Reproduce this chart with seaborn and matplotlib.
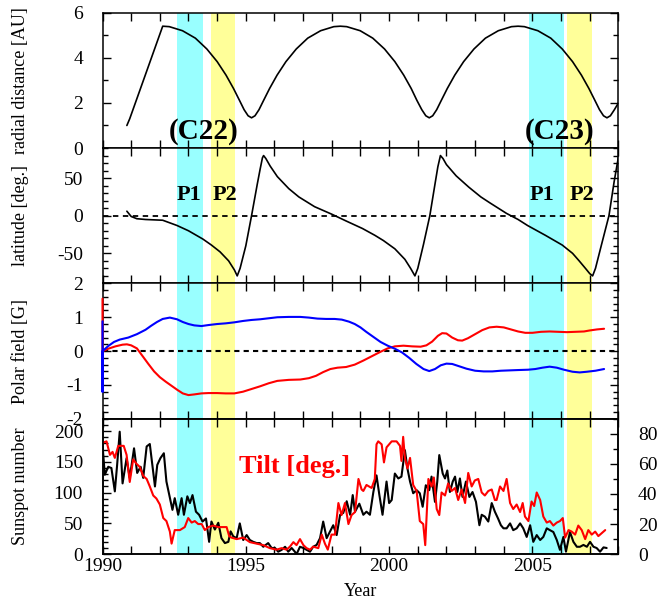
import numpy as np
import matplotlib
matplotlib.use("Agg")
import matplotlib.pyplot as plt
import seaborn as sns
from matplotlib.ticker import MultipleLocator

# =============================================================================
# DATA
# =============================================================================
# shaded periods (start, end) in years
p1_c22 = (1992.60, 1993.49)
p2_c22 = (1993.78, 1994.62)
p1_c23 = (2004.89, 2006.10)
p2_c23 = (2006.22, 2007.07)

# radial distance [AU]
orbit_t = [1990.85, 1990.95, 1992.10, 1992.33, 1992.79, 1993.24, 1993.64, 1994.00, 1994.31,
           1994.57, 1994.78, 1994.94, 1995.08, 1995.20, 1995.32, 1995.46, 1995.62, 1995.83,
           1996.09, 1996.40, 1996.76, 1997.16, 1997.61, 1998.07, 1998.30, 1998.52, 1998.99,
           1999.43, 1999.84, 2000.20, 2000.51, 2000.77, 2000.97, 2001.14, 2001.28, 2001.40,
           2001.52, 2001.66, 2001.82, 2002.03, 2002.29, 2002.60, 2002.96, 2003.36, 2003.81,
           2004.27, 2004.50, 2004.72, 2005.19, 2005.64, 2006.04, 2006.40, 2006.71, 2006.97,
           2007.18, 2007.34, 2007.48, 2007.60, 2007.72, 2007.86, 2008.00]
orbit_r = [1.00, 1.30, 5.40, 5.38, 5.20, 4.87, 4.39, 3.83, 3.23,
           2.64, 2.11, 1.70, 1.43, 1.34, 1.43, 1.70, 2.11, 2.64,
           3.23, 3.83, 4.39, 4.87, 5.20, 5.38, 5.40, 5.38, 5.20,
           4.87, 4.39, 3.83, 3.23, 2.64, 2.11, 1.70, 1.43, 1.34,
           1.43, 1.70, 2.11, 2.64, 3.23, 3.83, 4.39, 4.87, 5.20,
           5.38, 5.40, 5.38, 5.20, 4.87, 4.39, 3.83, 3.23, 2.64,
           2.11, 1.70, 1.43, 1.34, 1.43, 1.70, 2.00]

# heliographic latitude [deg]
lat_t = [1990.85, 1991.0, 1991.2, 1991.5, 1992.1, 1992.6, 1993.0, 1993.5, 1993.8, 1994.1,
         1994.4, 1994.6, 1994.7, 1994.8, 1995.0, 1995.2, 1995.4, 1995.5, 1995.58, 1995.62,
         1995.7, 1995.85, 1996.1, 1996.5, 1996.85, 1997.4, 1998.0, 1998.5, 1999.07, 1999.5,
         1999.8, 2000.2, 2000.55, 2000.75, 2000.9, 2001.0, 2001.2, 2001.42, 2001.6, 2001.7,
         2001.79, 2001.88, 2002.0, 2002.34, 2002.78, 2003.2, 2003.52, 2004.1, 2004.5, 2004.83,
         2005.45, 2006.04, 2006.4, 2006.63, 2006.85, 2007.0, 2007.1, 2007.2, 2007.4, 2007.67,
         2007.85, 2008.0]
lat_v = [6, -1, -4, -5, -6, -13, -20, -31, -39, -48,
         -60, -72, -80, -70, -40, 0, 42, 62, 77, 80,
         76, 66, 52, 36, 25, 12, 2, -7, -17, -26,
         -33, -44, -58, -70, -80, -70, -38, 0, 42, 65,
         80, 76, 68, 53, 38, 25, 17, 3, -5, -13,
         -26, -39, -50, -60, -70, -77, -80, -70, -40, 0,
         45, 78]

# polar field [G]
north_t = [1990.0, 1990.0, 1990.0, 1990.2, 1990.4, 1990.6, 1990.9, 1991.2, 1991.5, 1991.7,
           1991.9, 1992.1, 1992.35, 1992.6, 1992.8, 1993.0, 1993.2, 1993.45, 1993.7, 1994.0,
           1994.3, 1994.6, 1994.9, 1995.2, 1995.5, 1995.8, 1996.1, 1996.5, 1996.9, 1997.2,
           1997.5, 1997.8, 1998.1, 1998.35, 1998.6, 1998.8, 1999.0, 1999.2, 1999.45, 1999.7,
           1999.95, 2000.2, 2000.45, 2000.7, 2000.95, 2001.2, 2001.4, 2001.6, 2001.8, 2002.0,
           2002.2, 2002.45, 2002.7, 2003.0, 2003.3, 2003.6, 2003.9, 2004.2, 2004.5, 2004.85,
           2005.1, 2005.35, 2005.6, 2005.85, 2006.1, 2006.4, 2006.65, 2006.9, 2007.2, 2007.5]
north_b = [0.88, -1.2, 0.0, 0.15, 0.27, 0.34, 0.40, 0.50, 0.63, 0.75,
           0.86, 0.95, 0.99, 0.94, 0.86, 0.80, 0.76, 0.74, 0.77, 0.80,
           0.82, 0.85, 0.89, 0.92, 0.94, 0.97, 1.00, 1.01, 1.01, 0.99,
           0.96, 0.95, 0.95, 0.93, 0.87, 0.80, 0.70, 0.57, 0.42, 0.27,
           0.16, 0.07, -0.04, -0.20, -0.38, -0.53, -0.59, -0.53, -0.42, -0.37,
           -0.38, -0.45, -0.52, -0.58, -0.60, -0.60, -0.58, -0.57, -0.56, -0.55,
           -0.53, -0.49, -0.46, -0.49, -0.55, -0.61, -0.63, -0.61, -0.58, -0.53]
south_t = [1990.0, 1990.0, 1990.2, 1990.45, 1990.7, 1990.85, 1991.0, 1991.2, 1991.4, 1991.6,
           1991.8, 1992.0, 1992.2, 1992.4, 1992.6, 1992.8, 1993.0, 1993.2, 1993.45, 1993.7,
           1994.0, 1994.3, 1994.6, 1994.9, 1995.2, 1995.5, 1995.8, 1996.1, 1996.5, 1996.9,
           1997.2, 1997.45, 1997.7, 1997.95, 1998.2, 1998.5, 1998.8, 1999.1, 1999.4, 1999.7,
           1999.95, 2000.2, 2000.5, 2000.8, 2001.1, 2001.3, 2001.5, 2001.7, 2001.85, 2002.0,
           2002.2, 2002.4, 2002.55, 2002.75, 2003.0, 2003.25, 2003.5, 2003.75, 2004.0, 2004.25,
           2004.5, 2004.75, 2005.0, 2005.3, 2005.6, 2005.9, 2006.2, 2006.5, 2006.8, 2007.0,
           2007.25, 2007.5]
south_b = [1.55, 0.0, 0.07, 0.14, 0.19, 0.20, 0.17, 0.08, -0.15, -0.38,
           -0.60, -0.77, -0.90, -1.02, -1.14, -1.25, -1.30, -1.28, -1.25, -1.24,
           -1.24, -1.25, -1.25, -1.20, -1.12, -1.04, -0.95, -0.88, -0.85, -0.84,
           -0.80, -0.73, -0.62, -0.53, -0.49, -0.47, -0.40, -0.28, -0.15, -0.02,
           0.08, 0.14, 0.16, 0.14, 0.13, 0.17, 0.28, 0.45, 0.53, 0.52,
           0.40, 0.32, 0.31, 0.38, 0.50, 0.62, 0.70, 0.72, 0.70, 0.64,
           0.58, 0.54, 0.54, 0.57, 0.58, 0.57, 0.56, 0.57, 0.58, 0.61,
           0.64, 0.66]

# sunspot number
ssn_t = [1990.00, 1990.08, 1990.20, 1990.31, 1990.43, 1990.51, 1990.60, 1990.70, 1990.84, 1990.95,
         1991.10, 1991.21, 1991.33, 1991.42, 1991.54, 1991.65, 1991.74, 1991.83, 1991.91, 1992.02,
         1992.14, 1992.23, 1992.33, 1992.44, 1992.52, 1992.64, 1992.76, 1992.84, 1992.96, 1993.05,
         1993.14, 1993.26, 1993.37, 1993.49, 1993.61, 1993.72, 1993.80, 1993.92, 1994.04, 1994.15,
         1994.27, 1994.39, 1994.47, 1994.56, 1994.68, 1994.79, 1994.91, 1995.03, 1995.14, 1995.26,
         1995.38, 1995.49, 1995.61, 1995.78, 1995.90, 1996.02, 1996.13, 1996.25, 1996.37, 1996.48,
         1996.60, 1996.71, 1996.77, 1996.89, 1997.01, 1997.12, 1997.24, 1997.35, 1997.47, 1997.59,
         1997.70, 1997.82, 1997.94, 1998.05, 1998.17, 1998.29, 1998.40, 1998.52, 1998.64, 1998.73,
         1998.81, 1998.96, 1999.10, 1999.21, 1999.33, 1999.45, 1999.56, 1999.66, 1999.77, 1999.91,
         2000.00, 2000.09, 2000.20, 2000.32, 2000.43, 2000.55, 2000.64, 2000.73, 2000.84, 2000.96,
         2001.07, 2001.17, 2001.28, 2001.40, 2001.48, 2001.60, 2001.68, 2001.75, 2001.87, 2001.95,
         2002.03, 2002.12, 2002.22, 2002.30, 2002.38, 2002.47, 2002.56, 2002.68, 2002.80, 2002.91,
         2003.03, 2003.15, 2003.23, 2003.34, 2003.46, 2003.58, 2003.69, 2003.80, 2003.90, 2003.99,
         2004.10, 2004.22, 2004.33, 2004.45, 2004.57, 2004.68, 2004.80, 2004.92, 2005.03, 2005.15,
         2005.27, 2005.38, 2005.50, 2005.61, 2005.73, 2005.85, 2005.96, 2006.08, 2006.17, 2006.31,
         2006.43, 2006.55, 2006.66, 2006.78, 2006.90, 2007.01, 2007.13, 2007.24, 2007.36, 2007.48,
         2007.59]
ssn_v = [178, 129, 142, 140, 102, 145, 199, 115, 156, 124,
         172, 132, 142, 124, 175, 179, 145, 110, 145, 156,
         164, 118, 96, 72, 91, 64, 91, 64, 94, 83,
         96, 69, 64, 53, 58, 20, 53, 40, 51, 26,
         18, 20, 37, 29, 26, 50, 23, 31, 23, 20,
         18, 18, 12, 18, 10, 10, 4, 7, 12, 4,
         10, 4, 0, 12, 10, 7, 4, 12, 15, 26,
         53, 26, 37, 47, 31, 64, 67, 86, 64, 96,
         69, 82, 64, 69, 64, 101, 128, 96, 64, 118,
         83, 88, 131, 123, 126, 169, 139, 118, 99, 104,
         99, 77, 112, 104, 126, 85, 118, 161, 131, 123,
         136, 101, 118, 126, 101, 123, 93, 118, 93, 101,
         85, 47, 64, 61, 53, 83, 69, 58, 47, 42,
         42, 50, 39, 42, 50, 42, 28, 47, 20, 31,
         23, 28, 42, 39, 36, 23, 7, 28, 4, 36,
         20, 12, 12, 15, 12, 20, 12, 10, 4, 11,
         10]

# current sheet tilt angle [deg]
tilt_t = [1990.00, 1990.14, 1990.26, 1990.35, 1990.43, 1990.55, 1990.66, 1990.74, 1990.84, 1990.95,
          1991.07, 1991.19, 1991.30, 1991.42, 1991.54, 1991.65, 1991.77, 1991.88, 1992.00, 1992.12,
          1992.23, 1992.35, 1992.41, 1992.52, 1992.70, 1992.87, 1992.99, 1993.11, 1993.22, 1993.34,
          1993.46, 1993.57, 1993.69, 1993.86, 1994.04, 1994.21, 1994.33, 1994.42, 1994.50, 1994.68,
          1994.91, 1995.14, 1995.38, 1995.61, 1995.84, 1996.07, 1996.25, 1996.42, 1996.54, 1996.66,
          1996.77, 1996.89, 1997.01, 1997.12, 1997.24, 1997.35, 1997.53, 1997.65, 1997.76, 1997.86,
          1997.99, 1998.11, 1998.23, 1998.34, 1998.46, 1998.58, 1998.69, 1998.81, 1998.93, 1999.04,
          1999.10, 1999.21, 1999.39, 1999.50, 1999.56, 1999.62, 1999.74, 1999.82, 1999.91, 2000.09,
          2000.26, 2000.38, 2000.43, 2000.49, 2000.55, 2000.64, 2000.73, 2000.84, 2000.96, 2001.07,
          2001.19, 2001.26, 2001.37, 2001.48, 2001.56, 2001.66, 2001.75, 2001.83, 2001.95, 2002.06,
          2002.18, 2002.30, 2002.41, 2002.53, 2002.65, 2002.76, 2002.88, 2002.99, 2003.11, 2003.23,
          2003.34, 2003.46, 2003.58, 2003.69, 2003.75, 2003.87, 2003.99, 2004.10, 2004.22, 2004.33,
          2004.45, 2004.57, 2004.66, 2004.74, 2004.86, 2004.97, 2005.06, 2005.15, 2005.27, 2005.38,
          2005.50, 2005.61, 2005.73, 2005.85, 2005.96, 2006.06, 2006.14, 2006.26, 2006.37, 2006.49,
          2006.60, 2006.72, 2006.84, 2006.95, 2007.07, 2007.19, 2007.30, 2007.42, 2007.54]
tilt_v = [74, 75, 66, 68, 64, 72, 72, 72, 66, 48,
          63, 60, 58, 52, 50, 45, 39, 37, 33, 24,
          22, 15, 7, 16, 16, 18, 24, 21, 22, 20,
          20, 16, 18, 19, 18, 18, 18, 12, 11, 10,
          11, 8, 7, 6, 4, 3, 4, 3, 5, 8,
          6, 10, 6, 4, 3, 5, 4, 13, 7, 3,
          13, 13, 34, 26, 34, 20, 26, 28, 50, 43,
          42, 46, 44, 50, 73, 75, 73, 61, 71, 75,
          75, 72, 62, 78, 64, 57, 64, 46, 42, 22,
          20, 6, 50, 45, 51, 30, 26, 41, 39, 47,
          42, 44, 36, 43, 34, 54, 45, 49, 50, 41,
          39, 42, 43, 36, 36, 45, 42, 50, 34, 30,
          33, 28, 34, 25, 22, 35, 32, 41, 36, 25,
          21, 22, 19, 21, 22, 24, 11, 16, 15, 13,
          19, 16, 10, 16, 13, 15, 12, 14, 16]

# =============================================================================
# STYLE
# =============================================================================
sns.set_theme(style="ticks", rc={"axes.edgecolor": "black", "xtick.color": "black",
                                  "ytick.color": "black", "text.color": "black",
                                  "axes.labelcolor": "black", "axes.linewidth": 1.1})
plt.rcParams["font.family"] = ["Liberation Serif", "DejaVu Serif"]
plt.rcParams["axes.unicode_minus"] = False

CYAN = "#99ffff"
YELLOW = "#ffff99"
TICK_FS = 14
LABEL_FS = 13

fig = plt.figure(figsize=(6.7, 6.03), dpi=100)
gs = fig.add_gridspec(4, 1, left=0.153, right=0.923, bottom=0.081, top=0.979, hspace=0)
axes = [fig.add_subplot(gs[i]) for i in range(4)]

for ax in axes:
    for (a, b), c in [(p1_c22, CYAN), (p2_c22, YELLOW), (p1_c23, CYAN), (p2_c23, YELLOW)]:
        ax.axvspan(a, b, color=c, lw=0, zorder=0)
    ax.set_xlim(1990, 2008)
    ax.xaxis.set_major_locator(MultipleLocator(5))
    ax.xaxis.set_minor_locator(MultipleLocator(1))
    ax.tick_params(which="both", direction="in", top=True, right=True, labelsize=TICK_FS, width=1)
    ax.tick_params(axis="y", which="major", length=6, pad=14)
    ax.tick_params(axis="y", which="minor", length=3.5)
    ax.tick_params(axis="x", which="both", length=6, pad=3)
    if ax is not axes[-1]:
        ax.tick_params(axis="x", which="both", labelbottom=False)

# --- 1. radial distance
ax = axes[0]
sns.lineplot(x=orbit_t, y=orbit_r, ax=ax, color="black", lw=1.2, sort=False, estimator=None)
ax.set_ylim(0, 6)
ax.yaxis.set_major_locator(MultipleLocator(2))
ax.yaxis.set_minor_locator(MultipleLocator(1))
ax.set_ylabel("radial distance [AU]", fontsize=LABEL_FS)
for x, s in [(1993.54, "(C22)"), (2005.95, "(C23)")]:
    ax.text(x, 0.72, s, fontsize=21, fontweight="bold", ha="center", va="center", zorder=5)

# --- 2. latitude
ax = axes[1]
ax.axhline(0, color="black", lw=1.3, ls=(0, (3, 2.5)), zorder=1)
sns.lineplot(x=lat_t, y=lat_v, ax=ax, color="black", lw=1.2, sort=False, estimator=None)
ax.set_ylim(-90, 90)
ax.set_yticks([-50, 0, 50])
ax.yaxis.set_minor_locator(MultipleLocator(10))
ax.set_ylabel("latitude [deg.]", fontsize=LABEL_FS)
for x, s in [(1993.03, "P1"), (1994.27, "P2"), (2005.32, "P1"), (2006.72, "P2")]:
    ax.text(x, 27, s, fontsize=16, fontweight="bold", ha="center", va="center", zorder=5)

# --- 3. polar field
ax = axes[2]
ax.axhline(0, color="black", lw=1.5, ls=(0, (2.5, 2)), zorder=1)
sns.lineplot(x=south_t, y=south_b, ax=ax, color="red", lw=1.5, sort=False, estimator=None,
             zorder=3, clip_on=False)
sns.lineplot(x=north_t, y=north_b, ax=ax, color="blue", lw=1.5, sort=False, estimator=None,
             zorder=3, clip_on=False)
ax.set_ylim(-2, 2)
ax.yaxis.set_major_locator(MultipleLocator(1))
ax.yaxis.set_minor_locator(MultipleLocator(0.2))
ax.set_ylabel("Polar field [G]", fontsize=LABEL_FS)

# --- 4. sunspot number & tilt
ax = axes[3]
ax.tick_params(which="both", right=False)
sns.lineplot(x=ssn_t, y=ssn_v, ax=ax, color="black", lw=1.5, sort=False, estimator=None)
ax.set_ylim(0, 220)
ax.yaxis.set_major_locator(MultipleLocator(50))
ax.yaxis.set_minor_locator(MultipleLocator(10))
ax.set_ylabel("Sunspot number", fontsize=LABEL_FS)
ax.set_xlabel("Year", fontsize=LABEL_FS)
ax.xaxis.set_label_coords(0.5, -0.21)
ax.text(1996.7, 142, "Tilt [deg.]", color="red", fontsize=19, fontweight="bold",
        ha="center", va="center")

axt = ax.twinx()
sns.lineplot(x=tilt_t, y=tilt_v, ax=axt, color="red", lw=1.5, sort=False, estimator=None)
axt.set_ylim(0, 90)
axt.yaxis.set_major_locator(MultipleLocator(20))
axt.yaxis.set_minor_locator(MultipleLocator(10))
axt.tick_params(which="both", direction="in", labelsize=TICK_FS, width=1, pad=14)
axt.tick_params(which="major", length=6)
axt.tick_params(which="minor", length=3.5)
axt.set_ylabel("")

for a in axes:
    a.yaxis.set_label_coords(-0.143, 0.5)

fig.savefig("out.png", dpi=100, facecolor="white")
